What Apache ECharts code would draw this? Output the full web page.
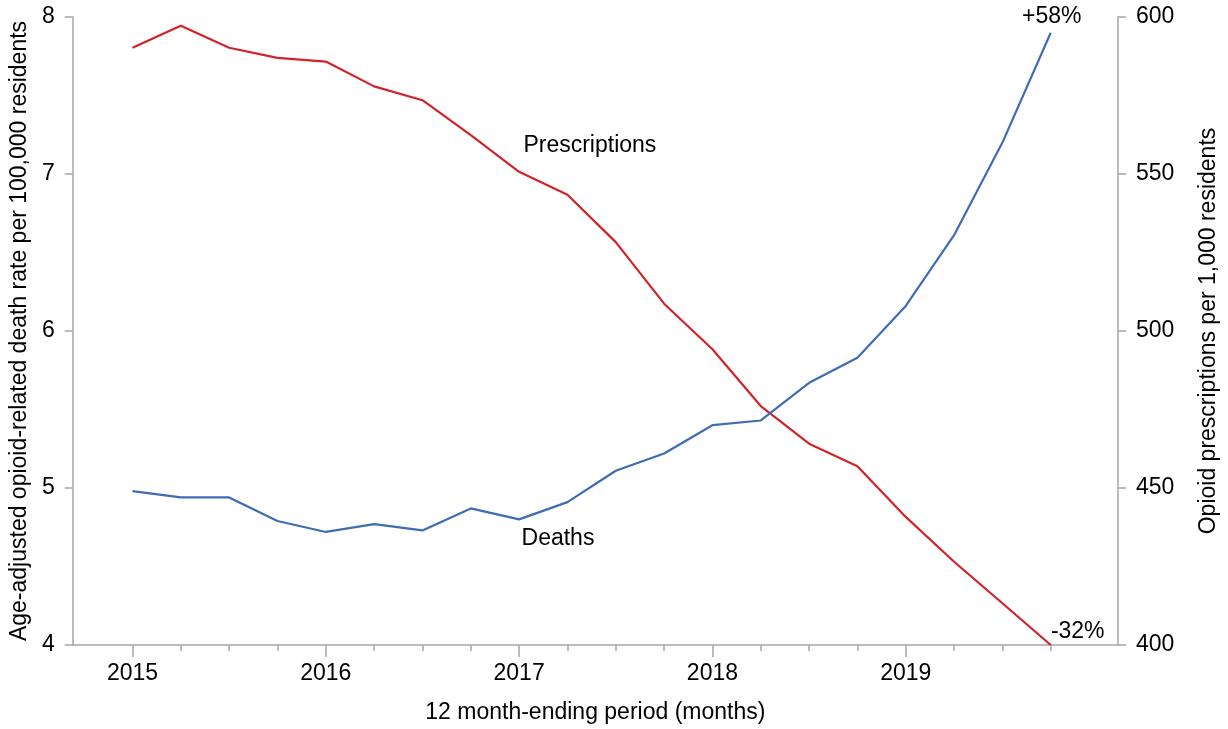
<!DOCTYPE html>
<html>
<head>
<meta charset="utf-8">
<script src="https://cdn.jsdelivr.net/npm/echarts@6/dist/echarts.min.js"></script>
<style>
html,body{margin:0;padding:0;background:#fff;}
#chart{width:1228px;height:729px;}
</style>
</head>
<body>
<div id="chart"></div>
<script>
// Quarterly 12 month-ending periods
const periods = [2015, 2015.25, 2015.5, 2015.75, 2016, 2016.25, 2016.5, 2016.75,
                 2017, 2017.25, 2017.5, 2017.75, 2018, 2018.25, 2018.5, 2018.75,
                 2019, 2019.25, 2019.5, 2019.75];
// Age-adjusted opioid-related death rate per 100,000 residents
const deaths = [4.98, 4.94, 4.94, 4.79, 4.72, 4.77, 4.73, 4.87, 4.80, 4.91,
                5.11, 5.22, 5.40, 5.43, 5.67, 5.83, 6.16, 6.61, 7.20, 7.90];
// Opioid prescriptions per 1,000 residents
const prescriptions = [590.2, 597.2, 590.2, 587.0, 585.8, 577.9, 573.5, 562.4, 550.7, 543.4,
                       528.3, 508.7, 494.2, 476.1, 464.1, 456.9, 440.8, 426.5, 413.3, 400.0];
const yearTicks = [2015, 2016, 2017, 2018, 2019];
const leftTicks = [4, 5, 6, 7, 8];
const rightTicks = [400, 450, 500, 550, 600];
const deathsLabel = 'Deaths';
const prescriptionsLabel = 'Prescriptions';
const deathsChange = '+58%';
const prescriptionsChange = '-32%';

const FONT = '"Liberation Sans", Arial, Helvetica, sans-serif';
const AXIS = '#a6a6a6';
const RED = '#d3232a';
const BLUE = '#3e6db4';
const TXT = '#000';
const FS = 23;

const chart = echarts.init(document.getElementById('chart'), null, {renderer: 'canvas'});
const xMin = 2014.6907, xMax = 2020.098;

const option = {
  animation: false,
  backgroundColor: '#ffffff',
  textStyle: {fontFamily: FONT},
  grid: {left: 71, right: 108, top: 17, bottom: 79, containLabel: false},
  xAxis: [
    {
      type: 'value', min: xMin, max: xMax, position: 'bottom',
      name: '12 month-ending period (months)', nameLocation: 'middle', nameGap: 56,
      nameTextStyle: {fontSize: FS, color: TXT, fontFamily: FONT},
      axisLine: {show: true, lineStyle: {color: AXIS, width: 1.5}},
      axisTick: {show: true, length: 12, lineStyle: {color: AXIS, width: 1.5}, customValues: yearTicks},
      axisLabel: {show: true, margin: 17, fontSize: FS, color: TXT, fontFamily: FONT,
                  customValues: yearTicks, formatter: v => String(Math.round(v))},
      splitLine: {show: false}
    },
    {
      type: 'value', min: xMin, max: xMax, position: 'bottom',
      axisLine: {show: false},
      axisTick: {show: true, length: 6, lineStyle: {color: AXIS, width: 1.5}, customValues: periods},
      axisLabel: {show: false},
      splitLine: {show: false}
    }
  ],
  yAxis: [
    {
      type: 'value', min: 4, max: 8, interval: 1, position: 'left',
      name: 'Age-adjusted opioid-related death rate per 100,000 residents',
      nameLocation: 'middle', nameGap: 41, nameRotate: 90,
      nameTextStyle: {fontSize: FS, color: TXT, fontFamily: FONT},
      axisLine: {show: true, lineStyle: {color: AXIS, width: 1.5}},
      axisTick: {show: true, length: 8, lineStyle: {color: AXIS, width: 1.5}},
      axisLabel: {margin: 18, fontSize: FS, color: TXT, fontFamily: FONT, customValues: leftTicks},
      splitLine: {show: false}
    },
    {
      type: 'value', min: 400, max: 600, interval: 50, position: 'right',
      name: 'Opioid prescriptions per 1,000 residents',
      nameLocation: 'middle', nameGap: 79, nameRotate: 90,
      nameTextStyle: {fontSize: FS, color: TXT, fontFamily: FONT},
      axisLine: {show: true, lineStyle: {color: AXIS, width: 1.5}},
      axisTick: {show: true, length: 8, lineStyle: {color: AXIS, width: 1.5}},
      axisLabel: {margin: 18, fontSize: FS, color: TXT, fontFamily: FONT, customValues: rightTicks},
      splitLine: {show: false}
    }
  ],
  series: [
    {
      name: 'Deaths', type: 'line', xAxisIndex: 0, yAxisIndex: 0,
      data: periods.map((p, i) => [p, deaths[i]]),
      showSymbol: false, symbol: 'none',
      lineStyle: {color: BLUE, width: 2.2},
      itemStyle: {color: BLUE},
      z: 3,
      markPoint: {
        symbol: 'circle', symbolSize: 0, silent: true,
        data: [
          {coord: [2017.201, 4.68], value: deathsLabel,
           label: {show: true, position: 'inside', formatter: deathsLabel, fontSize: FS, color: TXT, fontFamily: FONT}},
          {coord: [periods[periods.length - 1], deaths[deaths.length - 1]], value: deathsChange,
           label: {show: true, position: 'inside', offset: [1, -16], formatter: deathsChange, fontSize: FS, color: TXT, fontFamily: FONT}}
        ]
      }
    },
    {
      name: 'Prescriptions', type: 'line', xAxisIndex: 0, yAxisIndex: 1,
      data: periods.map((p, i) => [p, prescriptions[i]]),
      showSymbol: false, symbol: 'none',
      lineStyle: {color: RED, width: 2.2},
      itemStyle: {color: RED},
      z: 2,
      markPoint: {
        symbol: 'circle', symbolSize: 0, silent: true,
        data: [
          {coord: [2017.366, 559.0], value: prescriptionsLabel,
           label: {show: true, position: 'inside', formatter: prescriptionsLabel, fontSize: FS, color: TXT, fontFamily: FONT}},
          {coord: [periods[periods.length - 1], prescriptions[prescriptions.length - 1]], value: prescriptionsChange,
           label: {show: true, position: 'inside', offset: [27, -13], formatter: prescriptionsChange, fontSize: FS, color: TXT, fontFamily: FONT}}
        ]
      }
    }
  ]
};
chart.setOption(option);
</script>
</body>
</html>
